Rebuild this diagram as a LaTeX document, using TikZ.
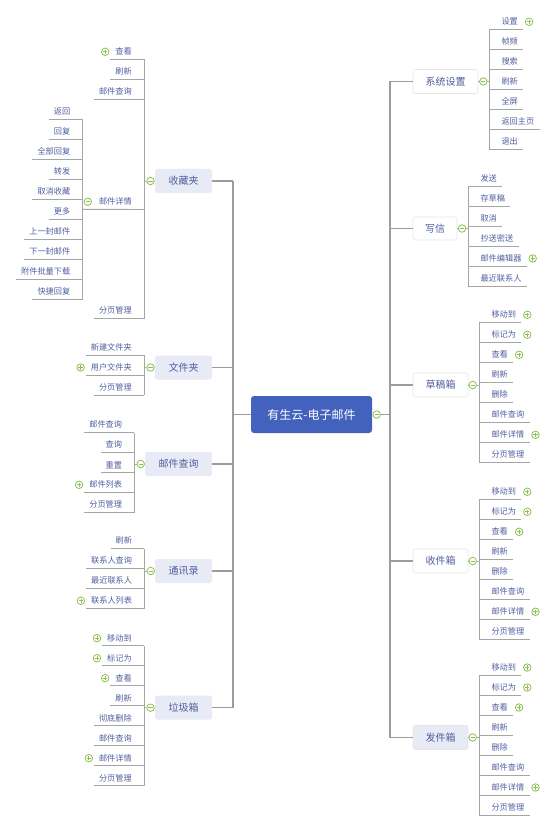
\documentclass[tikz,border=0pt]{standalone}
\usepackage{fontspec}
\setmainfont{Noto Sans CJK SC}
\definecolor{leafc}{HTML}{4F5E9E}
\definecolor{linec}{HTML}{A6A6A6}
\definecolor{trunkc}{HTML}{9C9C9C}
\definecolor{greenc}{HTML}{8CC152}
\definecolor{lav}{HTML}{E8EAF5}
\definecolor{boxline}{HTML}{E6E6E6}
\definecolor{centerc}{HTML}{4262BD}
\newcommand{\LL}[4]{%
  \node[leaf,anchor=east] (#1) at ({#2-12},{#3-7.5}) {#4};
  \draw[uline] ([xshift=-5pt]#1.south west) -- ([xshift=12pt]#1.south east);}
\newcommand{\RL}[4]{%
  \node[leaf,anchor=west] (#1) at ({#2+12},{#3-7.5}) {#4};
  \draw[uline] ([xshift=-12pt]#1.south west) -- ([xshift=5pt]#1.south east);}
\newcommand{\LP}[1]{\node[expandm] (#1x) at ([xshift=-10pt]#1.west) {};}
\newcommand{\RP}[1]{\node[expandm] (#1x) at ([xshift=11pt]#1.east) {};}
\begin{document}
\begin{tikzpicture}[x=1pt,y=-1pt,
  leaf/.style={font=\fontsize{8.2}{9}\selectfont, text=leafc, inner sep=0pt, minimum height=15pt},
  uline/.style={draw=linec, line width=0.9pt},
  trunk/.style={draw=trunkc, line width=1.1pt},
  lbranch/.style={fill=lav, rounded corners=2.5pt, minimum height=24pt, inner sep=0pt, font=\fontsize{10}{12}\selectfont, text=leafc},
  rbranch/.style={fill=white, draw=boxline, line width=0.6pt, rounded corners=2.5pt, minimum height=24pt, inner sep=0pt, font=\fontsize{10}{12}\selectfont, text=leafc},
  collapsem/.style={circle, draw=greenc, line width=0.8pt, fill=white, minimum size=7.5pt, inner sep=0pt,
    path picture={\draw[greenc, line width=0.8pt] ([xshift=1.6pt]path picture bounding box.west) -- ([xshift=-1.6pt]path picture bounding box.east);}},
  expandm/.style={circle, draw=greenc, line width=0.8pt, fill=white, minimum size=7.5pt, inner sep=0pt,
    path picture={\draw[greenc, line width=0.8pt] ([xshift=1.6pt]path picture bounding box.west) -- ([xshift=-1.6pt]path picture bounding box.east)
      ([yshift=1.6pt]path picture bounding box.south) -- ([yshift=-1.6pt]path picture bounding box.north);}}
]
\useasboundingbox (0,0) rectangle (554,829);
\coordinate (tl) at (233,0);
\coordinate (tr) at (390,0);

% ---------- center ----------
\node[fill=centerc, rounded corners=3pt, minimum width=121pt, minimum height=37pt, inner sep=0pt,
  text=white, font=\fontsize{12}{14}\selectfont] (root) at (311.5,414.5) {有生云-电子邮件};
\node[collapsem] (rootc) at ([xshift=4.5pt]root.east) {};

% ---------- left branches ----------
\node[lbranch, minimum width=57pt] (bA) at (183.5,181) {收藏夹};
\node[lbranch, minimum width=57pt] (bB) at (183.5,367.5) {文件夹};
\node[lbranch, minimum width=67pt] (bC) at (178.5,464) {邮件查询};
\node[lbranch, minimum width=57pt] (bD) at (183.5,571) {通讯录};
\node[lbranch, minimum width=57pt] (bE) at (183.5,707.5) {垃圾箱};

% ---------- right branches ----------
\node[rbranch, minimum width=65pt] (rA) at (445.5,81.5) {系统设置};
\node[rbranch, minimum width=44pt, minimum height=23pt] (rB) at (435,228.5) {写信};
\node[rbranch, minimum width=55pt] (rC) at (440.5,385) {草稿箱};
\node[rbranch, minimum width=55pt] (rD) at (440.5,561) {收件箱};
\node[lbranch, draw=boxline, line width=0.6pt, minimum width=55pt] (rE) at (440.5,737.5) {发件箱};

% ---------- trunks ----------
\draw[trunk] (root.west) -- (root.west -| tl);
\draw[trunk] (tl |- bA.east) -- (tl |- bE.east);
\foreach \b in {bA,bB,bC,bD,bE} \draw[trunk] (\b.east) -- (\b.east -| tl);
\draw[trunk] (rootc.east) -- (rootc.east -| tr);
\draw[trunk] (tr |- rA.west) -- (tr |- rE.west);
\foreach \b in {rA,rB,rC,rD,rE} \draw[trunk] (\b.west) -- (\b.west -| tr);

% ---------- 收藏夹 ----------
\LL{a1}{144}{59.3}{查看}\LP{a1}
\LL{a2}{144}{79.3}{刷新}
\LL{a3}{144}{99.3}{邮件查询}
\LL{a4}{144}{209.3}{邮件详情}
\LL{a5}{144}{318.3}{分页管理}
\draw[uline] ([xshift=12pt]a1.south east) -- ([xshift=12pt]a5.south east);
\node[collapsem] (ca) at (150.5,181) {};
\draw[uline] (ca.west) -- ([xshift=12pt]a1.south east |- ca.west);
% 邮件详情 children
\coordinate (ba4) at (82.5,209.3);
\draw[uline] (ba4) -- ([xshift=12pt]a4.south east);
\node[collapsem] (ca4) at ([xshift=-11pt]a4.west) {};
\LL{d1}{82.5}{119.3}{返回}
\LL{d2}{82.5}{139.3}{回复}
\LL{d3}{82.5}{159.3}{全部回复}
\LL{d4}{82.5}{179.3}{转发}
\LL{d5}{82.5}{199.3}{取消收藏}
\LL{d6}{82.5}{219.3}{更多}
\LL{d7}{82.5}{239.3}{上一封邮件}
\LL{d8}{82.5}{259.3}{下一封邮件}
\LL{d9}{82.5}{279.3}{附件批量下载}
\LL{d10}{82.5}{299.3}{快捷回复}
\draw[uline] ([xshift=12pt]d1.south east) -- ([xshift=12pt]d10.south east);

% ---------- 文件夹 ----------
\LL{b1}{144}{355}{新建文件夹}
\LL{b2}{144}{375}{用户文件夹}\LP{b2}
\LL{b3}{144}{395}{分页管理}
\draw[uline] ([xshift=12pt]b1.south east) -- ([xshift=12pt]b3.south east);
\node[collapsem] (cb) at (150.5,367.5) {};
\draw[uline] (cb.west) -- ([xshift=12pt]b1.south east |- cb.west);

% ---------- 邮件查询 ----------
\LL{c1}{134.3}{432.3}{邮件查询}
\LL{c2}{134.3}{452.3}{查询}
\LL{c3}{134.3}{472.3}{重置}
\LL{c4}{134.3}{492.3}{邮件列表}\LP{c4}
\LL{c5}{134.3}{512.3}{分页管理}
\draw[uline] ([xshift=12pt]c1.south east) -- ([xshift=12pt]c5.south east);
\node[collapsem] (cc) at (140.7,464) {};
\draw[uline] (cc.west) -- ([xshift=12pt]c1.south east |- cc.west);

% ---------- 通讯录 ----------
\LL{e1}{144.3}{548.3}{刷新}
\LL{e2}{144.3}{568.3}{联系人查询}
\LL{e3}{144.3}{588.3}{最近联系人}
\LL{e4}{144.3}{608.3}{联系人列表}\LP{e4}
\draw[uline] ([xshift=12pt]e1.south east) -- ([xshift=12pt]e4.south east);
\node[collapsem] (ce) at (150.7,571) {};
\draw[uline] (ce.west) -- ([xshift=12pt]e1.south east |- ce.west);

% ---------- 垃圾箱 ----------
\LL{f1}{144}{645.7}{移动到}\LP{f1}
\LL{f2}{144}{665.7}{标记为}\LP{f2}
\LL{f3}{144}{685.7}{查看}\LP{f3}
\LL{f4}{144}{705.7}{刷新}
\LL{f5}{144}{725.7}{彻底删除}
\LL{f6}{144}{745.7}{邮件查询}
\LL{f7}{144}{765.7}{邮件详情}\LP{f7}
\LL{f8}{144}{785.7}{分页管理}
\draw[uline] ([xshift=12pt]f1.south east) -- ([xshift=12pt]f8.south east);
\node[collapsem] (cf) at (150.5,707.7) {};
\draw[uline] (cf.west) -- ([xshift=12pt]f1.south east |- cf.west);

% ---------- 系统设置 ----------
\RL{g1}{489.3}{29.3}{设置}\RP{g1}
\RL{g2}{489.3}{49.3}{帧频}
\RL{g3}{489.3}{69.3}{搜索}
\RL{g4}{489.3}{89.3}{刷新}
\RL{g5}{489.3}{109.3}{全屏}
\RL{g6}{489.3}{129.3}{返回主页}
\RL{g7}{489.3}{149.3}{退出}
\draw[uline] ([xshift=-12pt]g1.south west) -- ([xshift=-12pt]g7.south west);
\node[collapsem] (cg) at (483.3,81.5) {};
\draw[uline] (rA.east) -- (cg.west);
\draw[uline] (cg.east) -- ([xshift=-12pt]g1.south west |- cg.east);

% ---------- 写信 ----------
\RL{h1}{468.3}{186}{发送}
\RL{h2}{468.3}{206}{存草稿}
\RL{h3}{468.3}{226}{取消}
\RL{h4}{468.3}{246}{抄送密送}
\RL{h5}{468.3}{266}{邮件编辑器}\RP{h5}
\RL{h6}{468.3}{286}{最近联系人}
\draw[uline] ([xshift=-12pt]h1.south west) -- ([xshift=-12pt]h6.south west);
\node[collapsem] (ch) at (462,228.5) {};
\draw[uline] (rB.east) -- (ch.west);
\draw[uline] (ch.east) -- ([xshift=-12pt]h1.south west |- ch.east);

% ---------- 草稿箱 ----------
\RL{i1}{479.3}{322.3}{移动到}\RP{i1}
\RL{i2}{479.3}{342.3}{标记为}\RP{i2}
\RL{i3}{479.3}{362.3}{查看}\RP{i3}
\RL{i4}{479.3}{382.3}{刷新}
\RL{i5}{479.3}{402.3}{删除}
\RL{i6}{479.3}{422.3}{邮件查询}
\RL{i7}{479.3}{442.3}{邮件详情}\RP{i7}
\RL{i8}{479.3}{462.3}{分页管理}
\draw[uline] ([xshift=-12pt]i1.south west) -- ([xshift=-12pt]i8.south west);
\node[collapsem] (ci) at (472.7,385) {};
\draw[uline] (rC.east) -- (ci.west);
\draw[uline] (ci.east) -- ([xshift=-12pt]i1.south west |- ci.east);

% ---------- 收件箱 ----------
\RL{j1}{479.3}{499.3}{移动到}\RP{j1}
\RL{j2}{479.3}{519.3}{标记为}\RP{j2}
\RL{j3}{479.3}{539.3}{查看}\RP{j3}
\RL{j4}{479.3}{559.3}{刷新}
\RL{j5}{479.3}{579.3}{删除}
\RL{j6}{479.3}{599.3}{邮件查询}
\RL{j7}{479.3}{619.3}{邮件详情}\RP{j7}
\RL{j8}{479.3}{639.3}{分页管理}
\draw[uline] ([xshift=-12pt]j1.south west) -- ([xshift=-12pt]j8.south west);
\node[collapsem] (cj) at (472.7,561) {};
\draw[uline] (rD.east) -- (cj.west);
\draw[uline] (cj.east) -- ([xshift=-12pt]j1.south west |- cj.east);

% ---------- 发件箱 ----------
\RL{k1}{479.3}{675}{移动到}\RP{k1}
\RL{k2}{479.3}{695}{标记为}\RP{k2}
\RL{k3}{479.3}{715}{查看}\RP{k3}
\RL{k4}{479.3}{735}{刷新}
\RL{k5}{479.3}{755}{删除}
\RL{k6}{479.3}{775}{邮件查询}
\RL{k7}{479.3}{795}{邮件详情}\RP{k7}
\RL{k8}{479.3}{815}{分页管理}
\draw[uline] ([xshift=-12pt]k1.south west) -- ([xshift=-12pt]k8.south west);
\node[collapsem] (ck) at (472.7,737.5) {};
\draw[uline] (rE.east) -- (ck.west);
\draw[uline] (ck.east) -- ([xshift=-12pt]k1.south west |- ck.east);
\end{tikzpicture}
\end{document}
